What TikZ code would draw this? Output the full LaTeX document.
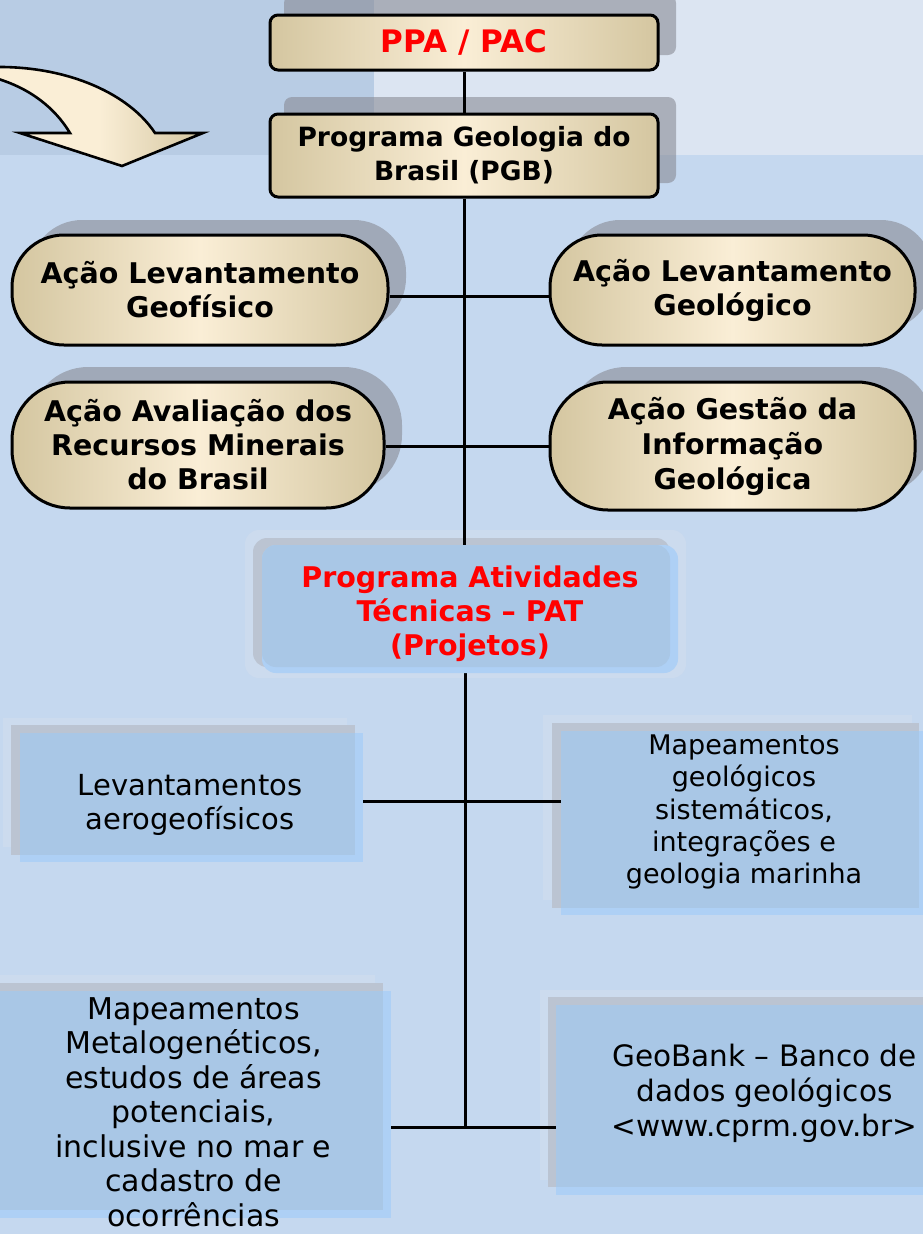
\documentclass[tikz,border=0pt]{standalone}
\usepackage{fontspec}
\setmainfont{DejaVu Sans}
\usetikzlibrary{calc}
\pgfdeclarelayer{back}
\pgfdeclarelayer{lines}
\pgfsetlayers{back,lines,main}
\definecolor{bgmain}{RGB}{197,216,239}
\definecolor{bgdark}{RGB}{184,204,228}
\definecolor{bglight}{RGB}{220,229,242}
\definecolor{shd}{RGB}{133,135,144}
\definecolor{beigeD}{RGB}{212,198,160}
\definecolor{beigeL}{RGB}{250,238,214}
\definecolor{boxgrey}{RGB}{187,196,210}
\definecolor{boxlite}{RGB}{204,219,238}
\definecolor{boxblue}{RGB}{174,208,245}
\definecolor{boxover}{RGB}{169,199,230}
\definecolor{pred}{RGB}{255,0,0}
\begin{document}
\begin{tikzpicture}[x=1pt,y=-1pt,
  beige/.style={draw=black, line width=3pt, left color=beigeD, right color=beigeD, middle color=beigeL, inner sep=0pt, align=center},
  conn/.style={draw=black, line width=3pt},
  shadowfill/.style={fill=shd, fill opacity=0.57},
  bluebox/.style={fill=boxblue, inner sep=0pt, draw=none},
  bodytext/.style={align=center, text=black, inner sep=0pt}]
\useasboundingbox (0,0) rectangle (923,1234);
\begin{pgfonlayer}{back}
  % background
  \fill[bgmain] (0,0) rectangle (923,1234);
  \fill[bgdark] (0,0) rectangle (374,155);
  \fill[bglight] (374,0) rectangle (923,155);
  % shadows of beige boxes
  \fill[shadowfill, rounded corners=8pt] (284,-5) rectangle (676,55);
  \fill[shadowfill, rounded corners=8pt] (284,97) rectangle (676,183);
  \fill[shadowfill, rounded corners=52pt] (30,220) rectangle (406,330);
  \fill[shadowfill, rounded corners=58pt] (30,367) rectangle (402,493);
  \fill[shadowfill, rounded corners=52pt] (568,220) rectangle (933,330);
  \fill[shadowfill, rounded corners=58pt] (568,367) rectangle (933,495);
  % layered blue boxes (outer light and grey parts)
  \fill[boxlite, rounded corners=14pt] (245,530) rectangle (686,678);
  \fill[boxgrey, rounded corners=14pt] (253,538) rectangle (670,667);
  \fill[boxlite] (3,718) rectangle (347,847);
  \fill[boxgrey] (11,725) rectangle (355,855);
  \fill[boxlite] (543,715) rectangle (912,900);
  \fill[boxgrey] (552,723) rectangle (919,908);
  \fill[boxlite] (-10,975) rectangle (375,1202);
  \fill[boxgrey] (-10,983) rectangle (383,1210);
  \fill[boxlite] (540,990) rectangle (930,1180);
  \fill[boxgrey] (548,997) rectangle (930,1187);
\end{pgfonlayer}

% curved arrow
\draw[line width=2.6pt, left color=beigeL, right color=beigeD, middle color=beigeL, line join=miter]
  (-5,67) .. controls (70,66) and (130,95) .. (155,133) -- (203,133) -- (122,166) -- (20,133) -- (70,133)
  .. controls (55,108) and (30,88) .. (-5,78) -- cycle;

% beige boxes
\node[beige, rounded corners=8pt, minimum width=388, minimum height=55, text=pred,
      font=\bfseries\fontsize{31}{36}\selectfont] (ppa) at (464,42.5) {PPA / PAC};
\node[beige, rounded corners=8pt, minimum width=388, minimum height=83,
      font=\bfseries\fontsize{26.5}{34}\selectfont] (pgb) at (464,155.5) {Programa Geologia do\\Brasil (PGB)};
\node[beige, rounded corners=52pt, minimum width=376, minimum height=110,
      font=\bfseries\fontsize{28.5}{34}\selectfont] (lg) at (200,290) {Ação Levantamento\\Geofísico};
\node[beige, rounded corners=58pt, minimum width=372, minimum height=126,
      font=\bfseries\fontsize{28.5}{34}\selectfont] (lr) at (198,445) {Ação Avaliação dos\\Recursos Minerais\\do Brasil};
\node[beige, rounded corners=52pt, minimum width=365, minimum height=110,
      font=\bfseries\fontsize{28.5}{34}\selectfont] (rg) at (732.5,290) {Ação Levantamento\\Geológico};
\node[beige, rounded corners=58pt, minimum width=365, minimum height=128,
      font=\bfseries\fontsize{28.5}{35}\selectfont] (ri) at (732.5,446) {Ação Gestão da\\Informação\\Geológica};

% PAT box
\node[bluebox, rounded corners=14pt, minimum width=416, minimum height=128] (pat) at (470,609) {};
\fill[boxover, rounded corners=14pt] (262,545) rectangle (670,667);
\node[bodytext, text=pred, font=\bfseries\fontsize{28.5}{34}\selectfont] (pattext) at (470,614)
  {Programa Atividades\\Técnicas – PAT\\(Projetos)};

% project boxes
\node[bluebox, minimum width=343, minimum height=129] (lev) at (191.5,797.5) {};
\fill[boxover] (20,733) rectangle (355,855);
\node[bodytext, font=\fontsize{29}{34}\selectfont] (levtext) at (190,805) {Levantamentos\\aerogeofísicos};

\node[bluebox, minimum width=369, minimum height=184] (map) at (745.5,823) {};
\fill[boxover] (561,731) rectangle (919,908);
\node[bodytext, font=\fontsize{27}{32.3}\selectfont] (maptext) at (744,812)
  {Mapeamentos\\geológicos\\sistemáticos,\\integrações e\\geologia marinha};

\node[bluebox, minimum width=401, minimum height=227] (bl) at (190.5,1104.5) {};
\fill[boxover] (-10,991) rectangle (383,1210);
\node[bodytext, font=\fontsize{30}{34.5}\selectfont] (bltext) at (193.5,1112)
  {Mapeamentos\\Metalogenéticos,\\estudos de áreas\\potenciais,\\inclusive no mar e\\cadastro de\\ocorrências};

\node[bluebox, minimum width=374, minimum height=190] (gb) at (743,1100) {};
\fill[boxover] (556,1005) rectangle (930,1187);
\node[bodytext, font=\fontsize{29.5}{35}\selectfont] (gbtext) at (764.5,1093)
  {GeoBank – Banco de\\dados geológicos\\<www.cprm.gov.br>};

% connectors
\coordinate (h1) at (464,296);
\coordinate (h2) at (464,446);
\coordinate (j1) at (465,801);
\coordinate (j2) at (465,1127);
\begin{pgfonlayer}{lines}
  \draw[conn] (ppa.south) -- (pgb.north);
  \draw[conn] (pgb.south) -- (pgb.south |- pat.north);
  \draw[conn] (lg.east |- h1) -- (rg.west |- h1);
  \draw[conn] (lr.east |- h2) -- (ri.west |- h2);
  \draw[conn] (pat.south -| j2) -- (j2);
  \draw[conn] (lev.east |- j1) -- (map.west |- j1);
  \draw[conn] (bl.east |- j2) -- (gb.west |- j2);
\end{pgfonlayer}
\end{tikzpicture}
\end{document}
